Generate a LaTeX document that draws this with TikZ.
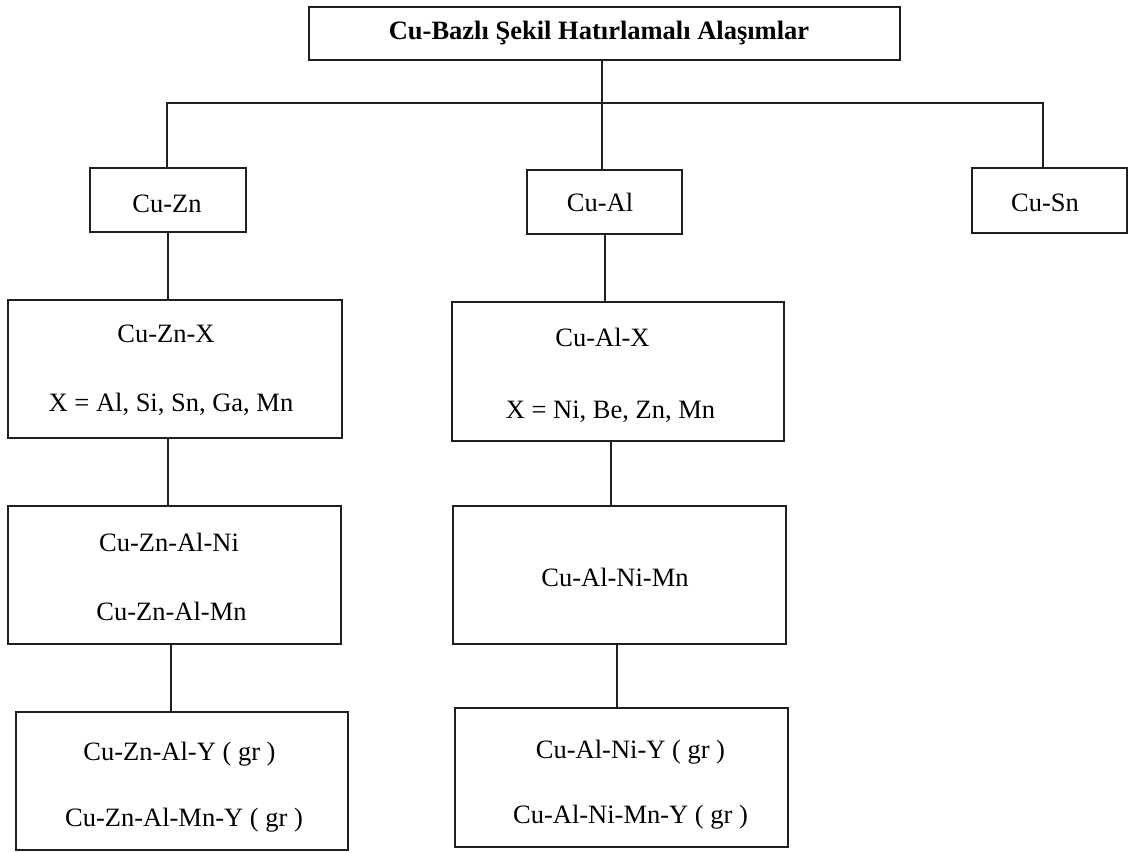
\documentclass[tikz,border=0pt]{standalone}
\usepackage{fontspec}
\setmainfont{Liberation Serif}
\begin{document}
\begin{tikzpicture}[x=1pt,y=-1pt,
  box/.style={draw=black!88,line width=1.6pt,inner sep=0pt,fill=none},
  lbl/.style={inner sep=0pt,text height=17.5pt,text depth=0pt,font=\fontsize{26.5}{30}\selectfont},
  conn/.style={draw=black!88,line width=1.3pt}]
\useasboundingbox (0,0) rectangle (1129,852);
% boxes
\node[box,minimum width=591pt,minimum height=53pt] (top) at (604.5,33.5) {};
\node[box,minimum width=156pt,minimum height=64pt] (bZn) at (168,200) {};
\node[box,minimum width=155pt,minimum height=64pt] (bAl) at (604.5,202) {};
\node[box,minimum width=155pt,minimum height=65pt] (bSn) at (1049.5,200.5) {};
\node[box,minimum width=334pt,minimum height=138pt] (bZnX) at (175,369) {};
\node[box,minimum width=332pt,minimum height=139pt] (bAlX) at (618,371.5) {};
\node[box,minimum width=333pt,minimum height=138pt] (bZnAl) at (174.5,575) {};
\node[box,minimum width=333pt,minimum height=138pt] (bAlNiMn) at (619.5,575) {};
\node[box,minimum width=332pt,minimum height=138pt] (bZnY) at (182,781) {};
\node[box,minimum width=333pt,minimum height=139pt] (bAlY) at (621.5,777.5) {};
% texts
\node[lbl,font=\fontsize{26.5}{30}\selectfont\bfseries] (tTop) at (599,31) {Cu-Bazlı Şekil Hatırlamalı Alaşımlar};
\node[lbl] (tZn) at (167,204) {Cu-Zn};
\node[lbl] (tAl) at (600,203) {Cu-Al};
\node[lbl] (tSn) at (1045,203) {Cu-Sn};
\node[lbl] (tZnX1) at (166,334) {Cu-Zn-X};
\node[lbl] (tZnX2) at (171,403) {X = Al, Si, Sn, Ga, Mn};
\node[lbl] (tAlX1) at (602.5,338) {Cu-Al-X};
\node[lbl] (tAlX2) at (610.5,410) {X = Ni, Be, Zn, Mn};
\node[lbl] (tZnAl1) at (169,543) {Cu-Zn-Al-Ni};
\node[lbl] (tZnAl2) at (171.5,612) {Cu-Zn-Al-Mn};
\node[lbl] (tAlNiMn) at (615,578) {Cu-Al-Ni-Mn};
\node[lbl] (tZnY1) at (179.5,752) {Cu-Zn-Al-Y ( gr )};
\node[lbl] (tZnY2) at (184,818) {Cu-Zn-Al-Mn-Y ( gr )};
\node[lbl] (tAlY1) at (630.5,750) {Cu-Al-Ni-Y ( gr )};
\node[lbl] (tAlY2) at (630.5,815) {Cu-Al-Ni-Mn-Y ( gr )};
% connectors
\coordinate (hub) at (602,103);
\coordinate (hl) at (167,103);
\coordinate (hr) at (1043,103);
\draw[conn] (top.south -| hub) -- (hub) -- (bAl.north -| hub);
\draw[conn] (bZn.north -| hl) -- (hl) -- (hr) -- (bSn.north -| hr);
\draw[conn] (bZn.south) -- (bZn.south |- bZnX.north);
\draw[conn] (bZnX.south -| bZn.south) -- (bZnAl.north -| bZn.south);
\draw[conn] ([xshift=-3.5pt]bZnAl.south) -- ([xshift=-3.5pt]bZnAl.south |- bZnY.north);
\draw[conn] ([xshift=0.5pt]bAl.south) -- ([xshift=0.5pt]bAl.south |- bAlX.north);
\draw[conn] ([xshift=-7pt]bAlX.south) -- ([xshift=-7pt]bAlX.south |- bAlNiMn.north);
\draw[conn] ([xshift=-2.5pt]bAlNiMn.south) -- ([xshift=-2.5pt]bAlNiMn.south |- bAlY.north);
\end{tikzpicture}
\end{document}
